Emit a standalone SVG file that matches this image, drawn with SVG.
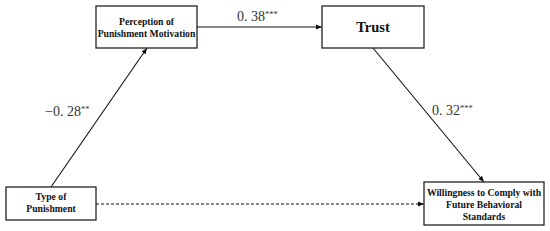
<svg xmlns="http://www.w3.org/2000/svg" width="550" height="231" viewBox="0 0 550 231">
<style>
.box{fill:#fff;stroke:#222;stroke-width:1.3}
.t{font-family:"Liberation Serif",serif;font-weight:bold;font-size:9.7px;fill:#111;text-anchor:middle}
.lbl{font-family:"Liberation Serif",serif;font-size:14px;fill:#333}
.sup{font-size:8.5px}
.ln{stroke:#111;stroke-width:1.1;fill:none}
</style>
<defs>
<marker id="ah" viewBox="0 0 10 10" refX="10" refY="5" markerWidth="6" markerHeight="6" orient="auto" markerUnits="userSpaceOnUse">
<path d="M0,1 L10,5 L0,9 z" fill="#111"/>
</marker>
</defs>
<g id="connectors">
<line class="ln" x1="197" y1="27" x2="322" y2="27" marker-end="url(#ah)"/>
<line class="ln" x1="51" y1="187" x2="147" y2="48" marker-end="url(#ah)"/>
<line class="ln" x1="373" y1="48" x2="484" y2="182" marker-end="url(#ah)"/>
<line class="ln" x1="96" y1="204" x2="424" y2="204" stroke-dasharray="3,2" marker-end="url(#ah)"/>
<text class="lbl" x="237" y="21">0. 38<tspan class="sup" dy="-4">***</tspan></text>
<text class="lbl" x="45" y="116">−0. 28<tspan class="sup" dy="-4">**</tspan></text>
<text class="lbl" x="432" y="115">0. 32<tspan class="sup" dy="-4">***</tspan></text>
</g>
<g id="perception">
<rect class="box" x="96" y="6" width="101" height="42"/>
<text class="t" x="146.5" y="25">Perception of</text>
<text class="t" x="146.5" y="37">Punishment Motivation</text>
</g>
<g id="trust">
<rect class="box" x="322" y="6" width="102" height="42"/>
<text class="t" x="373" y="32" style="font-size:14.5px">Trust</text>
</g>
<g id="type">
<rect class="box" x="6" y="187" width="90" height="33"/>
<text class="t" x="51" y="200">Type of</text>
<text class="t" x="51" y="212">Punishment</text>
</g>
<g id="willingness">
<rect class="box" x="424" y="182" width="120" height="43"/>
<text class="t" x="484" y="196">Willingness to Comply with</text>
<text class="t" x="484" y="208">Future Behavioral</text>
<text class="t" x="484" y="220">Standards</text>
</g>
</svg>
